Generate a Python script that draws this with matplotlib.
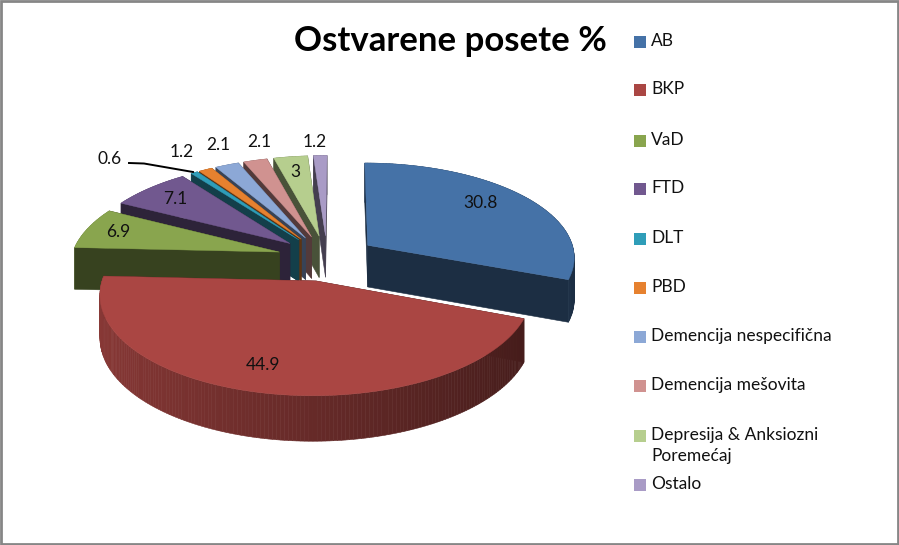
import numpy as np
import matplotlib
matplotlib.use('Agg')
import matplotlib.pyplot as plt
from matplotlib.patches import Polygon, Rectangle

categories = ['AB', 'BKP', 'VaD', 'FTD', 'DLT', 'PBD', 'Demencija nespecifična',
              'Demencija mešovita', 'Depresija & Anksiozni\nPoremećaj', 'Ostalo']
values = [30.8, 44.9, 6.9, 7.1, 0.6, 1.2, 2.1, 2.1, 3, 1.2]
colors = ['#4572A7', '#AA4643', '#89A54E', '#71588F', '#2F9DB8', '#E6812F',
          '#8CA8D6', '#D09290', '#B6CE8E', '#A99BC6']

# where things sit on the picture
legend_y = [42, 90, 141, 189, 239, 288, 337, 386, 436, 485]
label_xy = [(481, 203), (263, 365), (118, 232), (175, 199), (110, 159),
            (182, 152), (218, 145), (259, 142), (295, 172), (315, 142)]

# fake 3d pie: unit circle on a tilted plane, seen with some perspective
CX, CY = 327, 258
RADIUS = 208
TILT = 95
PERSP = 0.12
VANISH_X = 340
DEPTH = 42
EXPLODE = 0.24


def project(x, y, z=0):
    p = 1 / (1 + PERSP * y)
    sx = VANISH_X + (CX + RADIUS * x - VANISH_X) * p
    sy = CY - TILT * y * p + z * DEPTH * np.sqrt(p)
    return np.column_stack([sx, sy])


def shade(color, f):
    return tuple(np.array(matplotlib.colors.to_rgb(color)) * f)


def draw_slice(ax, a0, a1, color):
    mid = (a0 + a1) / 2
    ox, oy = EXPLODE * np.sin(mid), EXPLODE * np.cos(mid)
    n = max(int((a1 - a0) * 60), 3)
    th = np.linspace(a0, a1, n + 1)
    xs = ox + np.sin(th)
    ys = oy + np.cos(th)

    top_arc = project(xs, ys)
    bot_arc = project(xs, ys, 1)
    top_c = project(np.array([ox]), np.array([oy]))
    bot_c = project(np.array([ox]), np.array([oy]), 1)

    # side faces, back ones first, the top covers what should not show
    faces = []
    for i in [0, n]:
        quad = np.vstack([top_c, top_arc[i], bot_arc[i], bot_c])
        faces.append(((oy + ys[i]) / 2, quad, shade(color, 0.4)))
    for i in range(n):
        quad = np.vstack([top_arc[i], top_arc[i + 1], bot_arc[i + 1], bot_arc[i]])
        f = 0.6 - 0.2 * np.sin((th[i] + th[i + 1]) / 2)
        faces.append(((ys[i] + ys[i + 1]) / 2, quad, shade(color, f)))
    for _, quad, c in sorted(faces, key=lambda t: -t[0]):
        ax.add_patch(Polygon(quad, closed=True, facecolor=c, edgecolor=c, linewidth=0.4))
    ax.add_patch(Polygon(np.vstack([top_c, top_arc]), closed=True, facecolor=color,
                         edgecolor=color, linewidth=0.3))


fig = plt.figure(figsize=(8.99, 5.45), dpi=100)
ax = fig.add_axes([0, 0, 1, 1])
ax.set_xlim(0, 899)
ax.set_ylim(545, 0)
ax.axis('off')

fracs = np.array(values) / sum(values)
edges = np.concatenate([[0], np.cumsum(fracs)]) * 2 * np.pi

# painter order: the back slices first, then AB, BKP last
order = list(range(9, 1, -1)) + [0, 1]
for i in order:
    draw_slice(ax, edges[i], edges[i + 1], colors[i])

font = 'Lato'
for v, (x, y) in zip(values, label_xy):
    ax.text(x, y, f'{v:g}', ha='center', va='center', fontsize=12.5, family=font, color='#111111')
ax.plot([129, 144, 193], [163, 163.5, 172], color='black', lw=1.4)

ax.text(450, 41, 'Ostvarene posete %', ha='center', va='center', fontsize=25,
        fontweight='bold', family=font, color='black')

for name, c, y in zip(categories, colors, legend_y):
    ax.add_patch(Rectangle((634, y - 6), 12, 12, facecolor=c, edgecolor='none'))
    ax.text(651, y - 9, name, ha='left', va='top', fontsize=12.5, family=font,
            color='#111111', linespacing=1.35)

# grey frame round the chart
ax.add_patch(Rectangle((1, 1), 896.5, 542.5, fill=False, edgecolor='#868686', linewidth=2))

fig.savefig('out.png', dpi=100)
